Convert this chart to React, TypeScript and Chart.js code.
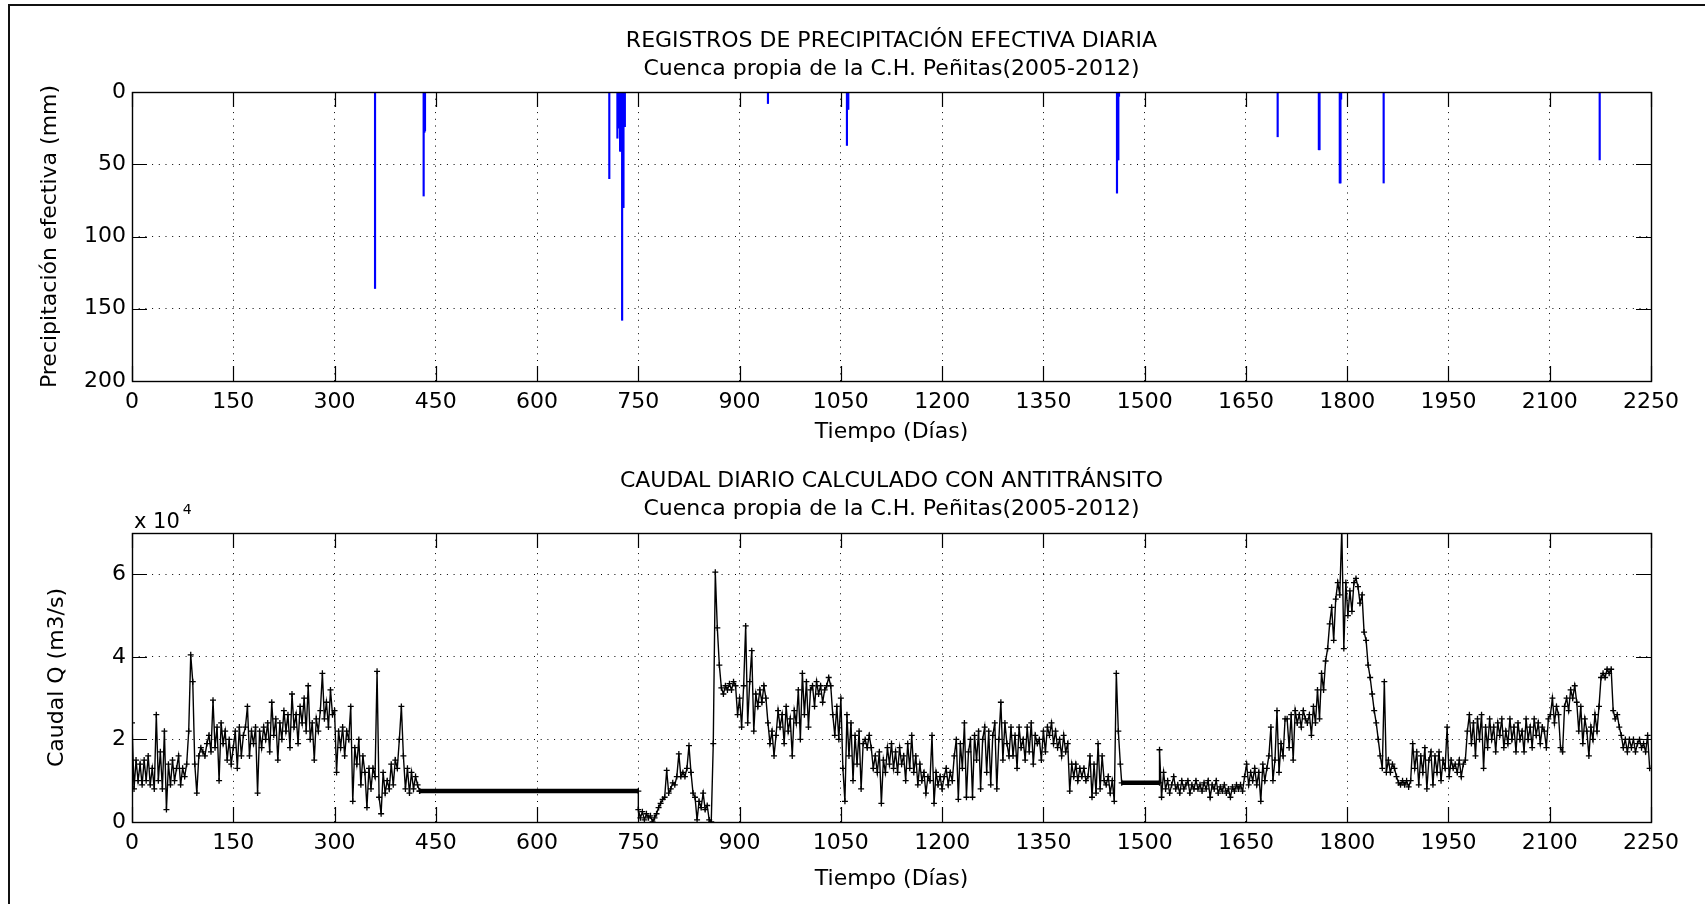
import React, { useEffect, useRef } from 'react';
import { Chart, registerables } from 'chart.js';

Chart.register(...registerables);

// ---------------- DATA ----------------
const FONT = 'DejaVu Sans';

const TOP_TITLE = ['REGISTROS DE PRECIPITACIÓN EFECTIVA DIARIA', 'Cuenca propia de la C.H. Peñitas(2005-2012)'];
const BOTTOM_TITLE = ['CAUDAL DIARIO CALCULADO CON ANTITRÁNSITO', 'Cuenca propia de la C.H. Peñitas(2005-2012)'];
const X_LABEL = 'Tiempo (Días)';
const RAIN_Y_LABEL = 'Precipitación efectiva (mm)';
const Q_Y_LABEL = 'Caudal Q (m3/s)';

const X_TICKS = [0, 150, 300, 450, 600, 750, 900, 1050, 1200, 1350, 1500, 1650, 1800, 1950, 2100, 2250];
const RAIN_Y_TICKS = [0, 50, 100, 150, 200];
const Q_Y_TICKS = [0, 2, 4, 6];

// effective daily precipitation (mm), days with rain
const rainDays = [360, 432, 433, 434, 707, 719, 720, 721, 722, 723, 724, 725, 726, 727, 728, 729, 730, 942, 1059, 1060, 1061, 1459, 1460, 1461, 1462, 1697, 1758, 1759, 1789, 1790, 1791, 1854, 2174];
const rainMm = [136, 72, 28, 27, 60, 32, 10, 25, 24, 41, 41, 25, 158, 80, 80, 24, 24, 8, 37, 12, 12, 70, 47, 47, 3, 31, 40, 40, 63, 63, 5, 63, 47];

// daily flow, units of 10^4 m3/s, sampled every 3 days per segment
const STEP = 3;
const qAStart = 0;
const qA = [
  2.4, 0.8, 1.5, 1.0, 1.4, 0.9, 1.5, 1.0, 1.6, 0.9,
  1.3, 0.8, 2.6, 1.0, 1.7, 0.8, 2.2, 0.3, 1.4, 0.9,
  1.5, 1.0, 1.3, 1.6, 0.9, 1.3, 1.1, 1.4, 2.2, 4.05,
  3.4, 1.4, 0.7, 1.6, 1.8, 1.7, 1.6, 1.9, 2.1, 1.7,
  2.95, 1.8, 2.3, 1.0, 2.4, 1.9, 2.2, 1.5, 2.0, 1.4,
  1.8, 2.2, 1.3, 2.3, 1.6, 2.1, 2.3, 2.8, 1.6, 2.2,
  1.9, 2.3, 0.7, 2.2, 1.8, 2.3, 2.0, 2.4, 1.7, 2.9,
  2.1, 2.5, 1.5, 2.4, 2.0, 2.7, 2.2, 2.6, 1.8, 3.1,
  2.3, 2.6, 1.9, 2.8, 2.4, 3.0, 2.2, 3.3, 2.0, 2.4,
  1.5, 2.5, 2.2, 2.7, 3.6, 2.5, 2.9, 2.3, 3.2, 2.6,
  2.7, 1.2, 2.2, 1.8, 2.3, 1.6, 2.2, 2.0, 2.8, 0.5,
  1.8, 1.4, 2.0, 0.9, 1.6, 1.2, 0.35, 1.3, 0.8, 1.3,
  1.1, 3.65, 0.6, 0.2, 1.2, 0.7, 1.0, 0.8, 1.4, 0.9,
  1.5, 1.3, 2.0, 2.8, 1.6, 0.8, 1.3, 0.7, 1.2, 0.8,
  1.1, 0.9, 0.75,
];
const flat1Days = [426, 750];
const flat1Q = [0.75, 0.75];
const qBStart = 750;
const qB = [
  0.3, 0.1, 0.25, 0.05, 0.2, 0.1, 0.15, 0.0, 0.1, 0.2,
  0.35, 0.45, 0.55, 0.6, 1.25, 0.7, 0.8, 0.95, 0.9, 1.1,
  1.65, 1.1, 1.2, 1.1, 1.3, 1.85, 1.2, 0.7, 0.6, 0.05,
  0.5, 0.35, 0.7, 0.3, 0.4, 0.05, 0.0, 1.9, 6.05,
];
const qCStart = 867;
const qC = [
  4.7, 3.8, 3.25, 3.1, 3.3, 3.2, 3.35, 3.2, 3.4, 3.3,
  2.6, 3.0, 2.3, 3.3, 4.75, 2.4, 3.4, 4.15, 2.2, 3.1,
  2.8, 3.2, 2.9, 3.3, 3.0, 2.4, 1.9, 2.2, 1.6, 2.1,
  2.7, 2.3, 2.6, 1.9, 2.8, 2.2, 2.5, 1.6, 2.7, 2.4,
  3.2, 2.0, 3.6, 2.6, 3.4, 2.3, 3.2, 3.3, 2.8, 3.4,
  3.1, 3.3, 2.9, 3.2, 3.3, 3.5, 3.3, 2.6, 2.1, 2.8,
  2.0, 3.0, 1.3, 0.5, 2.6, 1.6, 2.4, 1.0, 2.1, 1.4,
  2.2, 0.8, 1.9, 2.0, 1.8, 2.1, 1.8, 1.3, 1.6, 1.2,
  1.7, 0.45, 1.5, 1.2, 1.8, 1.4, 1.9, 1.3, 1.7, 1.2,
  1.8, 1.4, 1.6, 1.0, 1.9, 1.3, 2.1, 1.2, 1.6, 0.9,
  1.4, 1.0, 1.2, 0.7, 1.1, 1.0, 2.1, 0.45, 1.2, 0.9,
  1.1, 0.8, 1.1, 1.3, 0.9, 1.2, 1.0, 1.6, 2.0, 0.55,
  1.9, 1.3, 2.4, 0.6, 1.7, 2.0, 0.6, 2.1, 1.5, 2.2,
  0.8, 2.0, 2.3, 1.2, 2.2, 0.9, 2.1, 2.4, 0.8, 2.0,
  2.9, 1.5, 2.4, 1.9, 1.6, 2.3, 1.6, 2.1, 1.3, 2.3,
  1.8, 2.0, 1.5, 2.3, 1.7, 2.4, 1.4, 2.1, 1.9, 2.0,
  1.5, 2.2, 1.7, 2.3, 2.1, 2.4, 1.9, 2.2, 1.8, 2.0,
  1.6, 2.1, 1.7, 1.9, 0.75, 1.4, 1.1, 1.4, 1.0, 1.3,
  1.1, 1.3, 1.0, 1.1, 1.6, 0.6, 1.4, 0.7, 1.9, 0.8,
  1.6, 1.0, 0.9, 1.1, 0.7, 1.0, 0.5, 3.6, 2.2, 1.4,
];
const flat2Days = [1466, 1522];
const flat2Q = [0.95, 0.95];
const qDStart = 1522;
const qD = [
  1.75, 0.6, 1.2, 0.8, 1.0, 0.7, 0.9, 1.1, 0.8, 0.9,
  0.7, 1.0, 0.8, 0.9, 1.0, 0.7, 0.9, 0.8, 1.0, 0.8,
  0.9, 0.75, 0.95, 0.8, 1.0, 0.6, 0.9, 0.8, 1.0, 0.7,
  0.85, 0.75, 0.9, 0.7, 0.8, 0.6, 0.85, 0.75, 0.9, 0.8,
  0.9, 0.75, 1.1, 1.4, 0.9, 1.2, 1.0, 1.3, 0.9, 1.2,
  0.5, 1.4, 1.0, 1.3, 1.6, 2.3, 1.0, 1.5, 2.7, 1.2,
  1.9, 1.6, 2.5, 2.5, 1.8, 2.6, 1.5, 2.7, 2.4, 2.6,
  2.3, 2.7, 2.5, 2.4, 2.6, 2.1, 2.8, 2.4, 3.2, 2.5,
  3.6, 3.2, 3.9, 4.2, 4.8, 5.2, 4.4, 5.4, 5.8, 5.5,
  7.1, 4.2, 5.8, 5.0, 5.6, 5.1, 5.8, 5.9, 5.7, 5.3,
  5.5, 4.6, 4.4, 3.8, 3.5, 3.1, 2.7, 2.4, 2.0, 1.6,
  1.3, 3.4, 1.2, 1.5, 1.2, 1.4, 1.3, 1.1, 0.95, 0.9,
  1.0, 0.9, 1.0, 0.85, 1.0, 1.9, 1.3, 1.7, 0.9, 1.6,
  1.2, 1.8, 0.8, 1.5, 1.7, 0.9, 1.6, 1.2, 1.7, 1.0,
  1.5, 1.3, 2.3, 1.1, 1.5, 1.3, 1.4, 1.2, 1.5, 1.1,
  1.4, 1.5, 2.2, 2.6, 1.9, 2.4, 1.6, 2.5, 2.0, 2.6,
  1.3, 2.3, 1.8, 2.5, 2.0, 2.3, 1.7, 2.4, 2.1, 2.5,
  1.8, 2.2, 1.9, 2.5, 2.0, 2.3, 1.7, 2.4, 2.0, 2.2,
  1.7, 2.5, 2.0, 2.3, 1.8, 2.5, 2.1, 2.4, 1.9, 2.3,
  2.2, 1.8, 2.5, 2.6, 3.0, 2.4, 2.8, 2.6, 1.8, 1.7,
  2.8, 3.0, 2.7, 3.2, 3.0, 3.3, 2.9, 2.2, 2.8, 1.9,
  2.5, 2.2, 1.6, 2.3, 2.0, 2.6, 2.2, 2.8, 3.5, 3.6,
  3.5, 3.7, 3.6, 3.7, 2.7, 2.5, 2.6, 2.3, 2.1, 1.8,
  2.0, 1.7, 2.0, 1.8, 2.0, 1.7, 1.9, 2.0, 1.8, 1.9,
  1.7, 2.1, 1.3,
];

// ---------------- HELPERS ----------------
const series = (start: number, step: number, vals: number[]) => vals.map((v, i) => ({ x: start + i * step, y: v }));
const pairs = (xs: number[], ys: number[]) => xs.map((x, i) => ({ x, y: ys[i] }));
const fixedTicks = (vals: number[]) => (scale: any) => {
  scale.ticks = vals.map((v) => ({ value: v }));
};

const TICK_LEN = 15;
const matlabBox = {
  id: 'matlabBox',
  afterDatasetsDraw(chart: any) {
    const { ctx, chartArea: a, scales } = chart;
    const xs = scales.x;
    const ys = scales.y;
    ctx.save();
    ctx.strokeStyle = '#000';
    ctx.lineWidth = 1.2;
    ctx.beginPath();
    xs.ticks.forEach((t: any) => {
      const px = Math.round(xs.getPixelForValue(t.value)) + 0.5;
      ctx.moveTo(px, a.bottom);
      ctx.lineTo(px, a.bottom - TICK_LEN);
      ctx.moveTo(px, a.top);
      ctx.lineTo(px, a.top + TICK_LEN);
    });
    ys.ticks.forEach((t: any) => {
      const py = Math.round(ys.getPixelForValue(t.value)) + 0.5;
      ctx.moveTo(a.left, py);
      ctx.lineTo(a.left + TICK_LEN, py);
      ctx.moveTo(a.right, py);
      ctx.lineTo(a.right - TICK_LEN, py);
    });
    ctx.stroke();
    ctx.lineWidth = 1.4;
    ctx.strokeRect(Math.round(a.left) + 0.5, Math.round(a.top) + 0.5, Math.round(a.right - a.left), Math.round(a.bottom - a.top));
    ctx.restore();
  },
};

const exponentLabel = {
  id: 'exponentLabel',
  afterDraw(chart: any) {
    const { ctx, chartArea: a } = chart;
    ctx.save();
    ctx.fillStyle = '#000';
    ctx.textAlign = 'left';
    ctx.textBaseline = 'alphabetic';
    ctx.font = `21px "${FONT}"`;
    const base = 'x 10';
    ctx.fillText(base, a.left + 2, a.top - 5);
    const w = ctx.measureText(base).width;
    ctx.font = `14px "${FONT}"`;
    ctx.fillText('4', a.left + 2 + w + 3, a.top - 19);
    ctx.restore();
  },
};

const gridOpts = {
  color: '#000',
  lineWidth: 1,
  drawTicks: false,
};
const borderOpts = { display: false, dash: [1, 5.7] };
const font22 = { family: FONT, size: 22 };

function makeXAxis(height: number, titlePadBottom: number) {
  return {
    type: 'linear',
    min: 0,
    max: 2250,
    offset: false,
    grid: { ...gridOpts, offset: false },
    border: borderOpts,
    afterBuildTicks: fixedTicks(X_TICKS),
    afterFit: (s: any) => {
      s.height = height;
    },
    ticks: { font: font22, color: '#000', padding: 8, autoSkip: false, maxRotation: 0, callback: (v: any) => String(v) },
    title: { display: true, text: X_LABEL, font: font22, color: '#000', padding: { top: 0, bottom: titlePadBottom } },
  };
}

function TopChart() {
  const ref = useRef<HTMLCanvasElement>(null);
  useEffect(() => {
    const chart = new Chart(ref.current!, {
      type: 'bar',
      data: {
        datasets: [
          {
            data: pairs(rainDays, rainMm) as any,
            backgroundColor: '#0000ff',
            borderWidth: 0,
            barThickness: 1.5,
          } as any,
        ],
      },
      options: {
        animation: false,
        responsive: false,
        layout: { padding: { left: 0, right: 54, top: 0, bottom: 0 } },
        plugins: {
          legend: { display: false },
          tooltip: { enabled: false },
          title: {
            display: true,
            text: TOP_TITLE,
            fullSize: false,
            color: '#000',
            font: { family: FONT, size: 22, weight: 'normal', lineHeight: '28px' },
            padding: { top: 27, bottom: 9 },
          },
        },
        scales: {
          x: makeXAxis(69, 5) as any,
          y: {
            type: 'linear',
            min: 0,
            max: 200,
            reverse: true,
            grid: gridOpts,
            border: borderOpts,
            afterBuildTicks: fixedTicks(RAIN_Y_TICKS),
            afterFit: (s: any) => {
              s.width = 132;
            },
            ticks: { font: font22, color: '#000', padding: 6 },
            title: { display: true, text: RAIN_Y_LABEL, font: font22, color: '#000', padding: { top: 37, bottom: 0 } },
          } as any,
        },
      },
      plugins: [matlabBox],
    });
    return () => chart.destroy();
  }, []);
  return <canvas ref={ref} width={1705} height={450} style={{ position: 'absolute', left: 0, top: 0 }} />;
}

function BottomChart() {
  const ref = useRef<HTMLCanvasElement>(null);
  useEffect(() => {
    const main = [
      ...series(qAStart, STEP, qA),
      ...pairs(flat1Days, flat1Q),
      ...series(qBStart, STEP, qB),
      ...series(qCStart, STEP, qC),
      ...pairs(flat2Days, flat2Q),
      ...series(qDStart, STEP, qD),
    ];
    const chart = new Chart(ref.current!, {
      type: 'line',
      data: {
        datasets: [
          {
            data: main as any,
            borderColor: '#000',
            borderWidth: 1.4,
            pointStyle: 'cross',
            pointRadius: 3,
            pointBorderWidth: 1.3,
            pointBorderColor: '#000',
            pointBackgroundColor: '#000',
            tension: 0,
          } as any,
          {
            data: pairs(flat1Days, flat1Q) as any,
            borderColor: '#000',
            borderWidth: 4.5,
            pointRadius: 0,
          } as any,
          {
            data: pairs(flat2Days, flat2Q) as any,
            borderColor: '#000',
            borderWidth: 4.5,
            pointRadius: 0,
          } as any,
        ],
      },
      options: {
        animation: false,
        responsive: false,
        layout: { padding: { left: 0, right: 54, top: 0, bottom: 0 } },
        plugins: {
          legend: { display: false },
          tooltip: { enabled: false },
          title: {
            display: true,
            text: BOTTOM_TITLE,
            fullSize: false,
            color: '#000',
            font: { family: FONT, size: 22, weight: 'normal', lineHeight: '28px' },
            padding: { top: 17, bottom: 10 },
          },
        },
        scales: {
          x: makeXAxis(82, 12) as any,
          y: {
            type: 'linear',
            min: 0,
            max: 7,
            grid: gridOpts,
            border: borderOpts,
            afterBuildTicks: fixedTicks(Q_Y_TICKS),
            afterFit: (s: any) => {
              s.width = 132;
            },
            ticks: { font: font22, color: '#000', padding: 6, callback: (v: any) => String(v) },
            title: { display: true, text: Q_Y_LABEL, font: font22, color: '#000', padding: { top: 44, bottom: 0 } },
          } as any,
        },
      },
      plugins: [matlabBox, exponentLabel],
    });
    return () => chart.destroy();
  }, []);
  return <canvas ref={ref} width={1705} height={454} style={{ position: 'absolute', left: 0, top: 450 }} />;
}

export default function App() {
  return (
    <div style={{ position: 'absolute', left: 0, top: 0, width: 1705, height: 904, background: '#fff', overflow: 'hidden' }}>
      <div
        style={{
          position: 'absolute',
          left: 8,
          top: 4,
          width: 1800,
          height: 1000,
          borderLeft: '2px solid #111',
          borderTop: '2px solid #111',
        }}
      />
      <TopChart />
      <BottomChart />
    </div>
  );
}
